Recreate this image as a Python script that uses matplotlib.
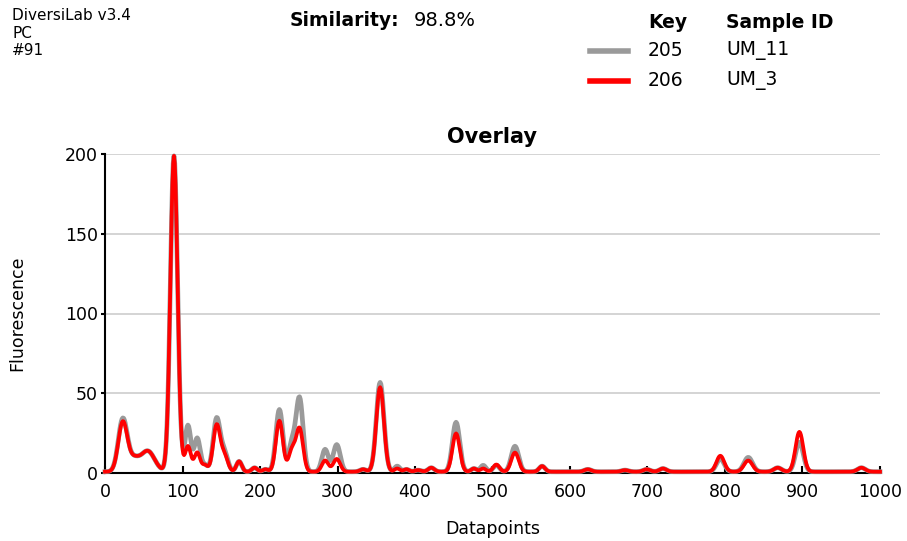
"""
DiversiLab overlay of two rep-PCR fingerprint traces.
"""

import numpy as np
import matplotlib.pyplot as plt


# peaks: position (datapoints), width (sigma, datapoints)
peak_pos = [23, 37, 55, 89, 107, 119, 129, 144, 154, 173, 193, 207, 225, 241, 251,
            284, 299, 333, 355, 377, 389, 404, 421, 453, 476, 488, 505, 529, 564,
            623, 671, 699, 720, 794, 830, 868, 896, 976]
peak_width = [5.8, 6.5, 9, 4.6, 3.8, 3.8, 3.5, 4.5, 4.5, 3.5, 3.5, 3.5, 4.5, 4.2, 4.5,
              4.2, 4.5, 4, 4.9, 3.5, 3.5, 4, 4, 4.7, 3.5, 3.5, 4, 4.8, 3.8,
              4.5, 4.5, 4.5, 4.5, 5, 5.5, 5, 5, 5]
# peak heights (fluorescence) of the two samples
height_205 = [33, 7, 13, 198, 29, 21, 4, 33, 12, 6.5, 2.5, 1.5, 39, 17, 46,
              14, 17, 1.5, 56, 3.5, 1.5, 1, 2.5, 31, 2, 4, 4, 16, 3.5,
              1.5, 1, 1.5, 2, 8, 9, 2.5, 18.5, 2.5]
height_206 = [31, 7, 13, 198, 16, 12, 4, 29, 10, 6.5, 2.5, 1.5, 32, 13, 27,
              7, 8, 1.5, 53, 2, 1.5, 1, 2.5, 24, 2, 2, 4.5, 12, 3.5,
              1.5, 1, 1.5, 2, 10, 7, 2.5, 25, 2.5]
baseline = 0.8

keys = ['205', '206']
sample_ids = ['UM_11', 'UM_3']
trace_colors = ['#9a9a9a', '#ff0000']
trace_widths = [3.4, 2.7]


def trace(heights):
    """ Sum of the peaks on the datapoint grid. """
    x = np.arange(0, 1001)
    y = np.full(x.shape, baseline, dtype=float)
    for p, w, h in zip(peak_pos, peak_width, heights):
        y += h*np.exp(-0.5*((x - p)/w)**2)
    return x, y


fig = plt.figure(figsize=(9.07, 5.41), dpi=100)
ax = fig.add_axes([105/907, 68/541, 775/907, 319/541])

for heights, c, lw in zip([height_205, height_206], trace_colors, trace_widths):
    x, y = trace(heights)
    ax.plot(x, y, color=c, lw=lw, clip_on=False, zorder=3, solid_joinstyle='round')

ax.set_xlim(0, 1000)
ax.set_ylim(0, 200)
ax.set_xticks(np.arange(0, 1001, 100))
ax.set_yticks(np.arange(0, 201, 50))
ax.yaxis.grid(True, color='#d4d4d4', lw=1.4)
ax.set_axisbelow(True)
for s in ['top', 'right']:
    ax.spines[s].set_visible(False)
for s in ['left', 'bottom']:
    ax.spines[s].set_linewidth(1.5)
    ax.spines[s].set_zorder(2)
ax.tick_params(axis='x', direction='in', length=5, width=1.5, labelsize=12.5, pad=7)
ax.tick_params(axis='y', direction='out', length=3, width=1.5, labelsize=12.5, pad=2)
ax.set_title('Overlay', fontsize=15, fontweight='bold', pad=8)
ax.set_xlabel('Datapoints', fontsize=12.5, labelpad=14)
ax.set_ylabel('Fluorescence', fontsize=12.5, labelpad=28)

# header
fig.text(12/907, 1 - 16/541, 'DiversiLab v3.4', fontsize=11, va='center')
fig.text(12/907, 1 - 33/541, 'PC', fontsize=11, va='center')
fig.text(12/907, 1 - 50/541, '#91', fontsize=11, va='center')
fig.text(290/907, 1 - 20/541, 'Similarity:', fontsize=13.5, fontweight='bold', va='center')
fig.text(414/907, 1 - 20/541, '98.8%', fontsize=14, va='center')
fig.text(648/907, 1 - 22/541, 'Key', fontsize=13.5, fontweight='bold', va='center')
fig.text(726/907, 1 - 22/541, 'Sample ID', fontsize=13.5, fontweight='bold', va='center')
for k, (key, sid, c) in enumerate(zip(keys, sample_ids, trace_colors)):
    yy = 1 - (51 + 30*k)/541
    fig.add_artist(plt.Line2D([590/907, 628/907], [yy, yy], color=c, lw=4,
                              transform=fig.transFigure))
    fig.text(648/907, yy, key, fontsize=13.5, va='center')
    fig.text(726/907, yy, sid, fontsize=13.5, va='center')

fig.savefig('out.png', dpi=100)
